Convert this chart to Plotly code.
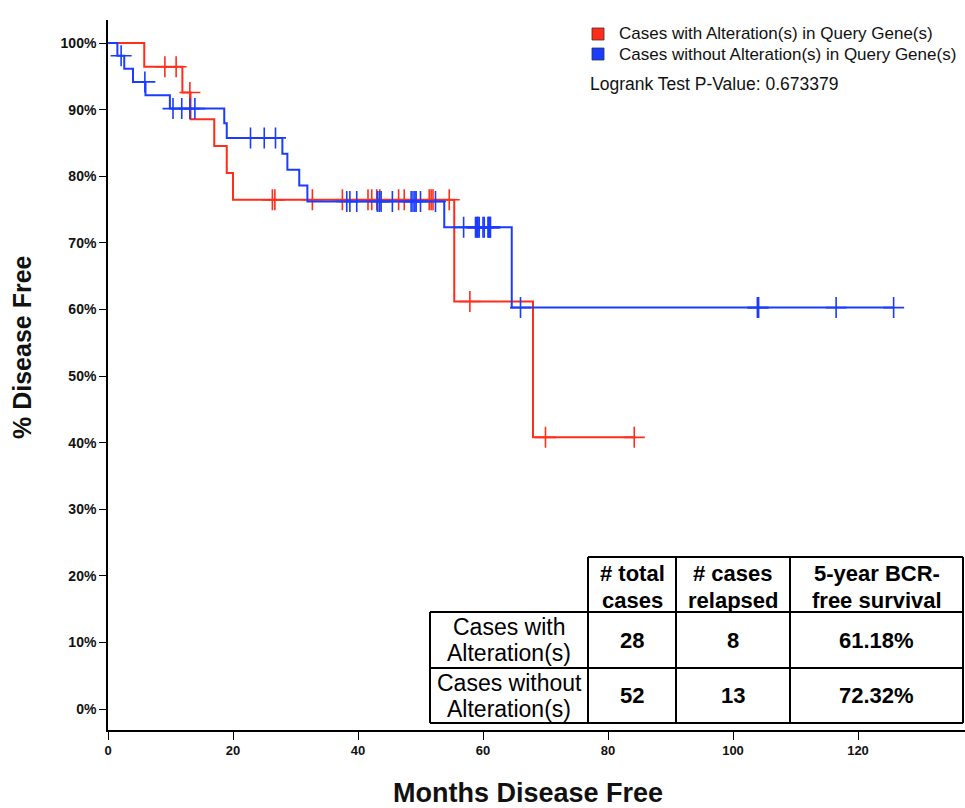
import numpy as np
import plotly.graph_objects as go

# ---------------- data ----------------
red_name = "Cases with Alteration(s) in Query Gene(s)"
blue_name = "Cases without Alteration(s) in Query Gene(s)"

red_step_months = [0, 5.8, 11.9, 13.2, 17.0, 19.0, 20.0, 55.4, 68.0]
red_step_pct = [100, 96.43, 92.57, 88.54, 84.52, 80.49, 76.47, 61.18, 40.79]
red_end_month = 84.2
red_censor_months = [9.1, 10.9, 13.1, 26.3, 26.7, 32.7, 37.5, 41.6, 42.2, 43.0,
                     43.5, 46.5, 47.4, 51.4, 51.7, 52.0, 54.6, 57.9, 70.0, 84.2]

blue_step_months = [0, 1.5, 2.6, 4.0, 6.0, 9.9, 18.6, 19.0, 27.9, 28.7, 30.6,
                    31.9, 53.8, 64.6]
blue_step_pct = [100, 98.08, 96.12, 94.16, 92.16, 90.15, 87.95, 85.75, 83.37,
                 80.98, 78.60, 76.20, 72.32, 60.27]
blue_end_month = 125.7
blue_censor_months = [2.1, 5.9, 10.4, 11.8, 13.1, 13.9, 22.8, 25.0, 26.8,
                      38.2, 38.7, 39.8, 43.1, 43.4, 43.7, 45.5, 48.5, 48.8, 49.1,
                      49.3, 50.0, 52.4,
                      56.9, 58.8, 59.0, 59.1, 59.2, 59.4, 60.0, 60.2, 60.8, 60.9,
                      61.0, 61.1, 61.2,
                      66.0, 103.9, 104.1, 116.5, 125.7]

x_tick_vals = [0, 20, 40, 60, 80, 100, 120]
y_tick_vals = [0, 10, 20, 30, 40, 50, 60, 70, 80, 90, 100]
y_tick_text = ["0%", "10%", "20%", "30%", "40%", "50%", "60%", "70%", "80%", "90%", "100%"]

pvalue_text = "Logrank Test P-Value: 0.673379"

table_header = [["# total", "cases"], ["# cases", "relapsed"], ["5-year BCR-", "free survival"]]
table_row_labels = [["Cases with", "Alteration(s)"], ["Cases without", "Alteration(s)"]]
table_total = ["28", "52"]
table_relapsed = ["8", "13"]
table_survival = ["61.18%", "72.32%"]

RED = "#ff2d1a"
BLUE = "#1a3cff"

# ---------------- layout geometry (pixels, window coordinates) ----------------
W, H = 965, 808
L, R, T, B = 108, 965, 20, 730   # plot area


def px(xp):
    return (xp - L) / (R - L)


def py(yp):
    return (B - yp) / (B - T)


fig = go.Figure()


def add_curve(months, pct, end_month, censors, color, name):
    xs = list(months) + [end_month]
    ys = list(pct) + [pct[-1]]
    fig.add_trace(go.Scatter(x=xs, y=ys, mode="lines", line=dict(color=color, width=2, shape="hv"),
                             name=name, showlegend=False, hoverinfo="skip"))
    m = np.array(months)
    idx = np.searchsorted(m, np.array(censors), side="right") - 1
    cy = [pct[i] for i in idx]
    fig.add_trace(go.Scatter(x=censors, y=cy, mode="markers",
                             marker=dict(symbol="cross-thin", size=15,
                                         line=dict(color=color, width=1.6)),
                             showlegend=False, hoverinfo="skip"))


add_curve(red_step_months, red_step_pct, red_end_month, red_censor_months, RED, red_name)
add_curve(blue_step_months, blue_step_pct, blue_end_month, blue_censor_months, BLUE, blue_name)

shapes = []
annotations = []
FONT = "Liberation Sans, Arial"

# legend
for i, (col, name) in enumerate([(RED, red_name), (BLUE, blue_name)]):
    yc = 34 + 20 * i
    shapes.append(dict(type="rect", xref="paper", yref="paper",
                       x0=px(592), x1=px(604), y0=py(yc + 6), y1=py(yc - 6),
                       fillcolor=col, line=dict(color="#333", width=0.8)))
    annotations.append(dict(x=px(617), y=py(yc), xref="paper", yref="paper", text=name,
                            showarrow=False, xanchor="left", yanchor="middle",
                            font=dict(family=FONT, size=17, color="#111")))
annotations.append(dict(x=px(588), y=py(84), xref="paper", yref="paper", text=pvalue_text,
                        showarrow=False, xanchor="left", yanchor="middle",
                        font=dict(family=FONT, size=17.5, color="#111")))

# axis titles
annotations.append(dict(x=px(22), y=py(347), xref="paper", yref="paper", text="<b>% Disease Free</b>",
                        showarrow=False, textangle=-90, xanchor="center", yanchor="middle",
                        font=dict(family=FONT, size=25, color="#111")))
annotations.append(dict(x=px(528), y=py(793), xref="paper", yref="paper", text="<b>Months Disease Free</b>",
                        showarrow=False, xanchor="center", yanchor="middle",
                        font=dict(family=FONT, size=27, color="#111")))

# table
cx = [430, 588, 676, 790, 963]
ry = [557, 612, 668, 723]
lw = dict(color="black", width=2)


def hline(x0, x1, y):
    shapes.append(dict(type="line", xref="paper", yref="paper", x0=px(x0), x1=px(x1),
                       y0=py(y), y1=py(y), line=lw))


def vline(x, y0, y1):
    shapes.append(dict(type="line", xref="paper", yref="paper", x0=px(x), x1=px(x),
                       y0=py(y0), y1=py(y1), line=lw))


hline(cx[1], cx[4], ry[0])
for yv in ry[1:]:
    hline(cx[0], cx[4], yv)
vline(cx[0], ry[1], ry[3])
for xv in cx[1:]:
    vline(xv, ry[0], ry[3])


def cell_text(xc, yc, text, bold, size=22):
    t = f"<b>{text}</b>" if bold else text
    annotations.append(dict(x=px(xc), y=py(yc), xref="paper", yref="paper", text=t,
                            showarrow=False, xanchor="center", yanchor="middle",
                            font=dict(family=FONT, size=size, color="black")))


for j, (l1, l2) in enumerate(table_header):
    xc = (cx[j + 1] + cx[j + 2]) / 2
    cell_text(xc, 573, l1, True)
    cell_text(xc, 600, l2, True)

for i in range(2):
    ytop, ybot = ry[i + 1], ry[i + 2]
    ymid = (ytop + ybot) / 2
    cell_text((cx[0] + cx[1]) / 2, ymid - 13, table_row_labels[i][0], False, 23)
    cell_text((cx[0] + cx[1]) / 2, ymid + 13, table_row_labels[i][1], False, 23)
    cell_text((cx[1] + cx[2]) / 2, ymid, table_total[i], True)
    cell_text((cx[2] + cx[3]) / 2, ymid, table_relapsed[i], True)
    cell_text((cx[3] + cx[4]) / 2, ymid, table_survival[i], True)

x_min = 0
x_max = x_min + (R - L) / 6.25
y_px_per_pct = (709 - 43) / 100.0
y_min = -(B - 709) / y_px_per_pct
y_max = (709 - T) / y_px_per_pct

fig.update_layout(
    width=W, height=H,
    margin=dict(l=L, r=W - R, t=T, b=H - B, pad=0),
    paper_bgcolor="white", plot_bgcolor="white",
    shapes=shapes, annotations=annotations,
    showlegend=False,
    xaxis=dict(range=[x_min, x_max], tickvals=x_tick_vals, showgrid=False, zeroline=False,
               showline=True, linecolor="black", linewidth=1.6, ticks="outside", ticklen=8,
               tickwidth=1.4, tickcolor="black",
               tickfont=dict(family=FONT, size=13, color="#111", weight="bold")),
    yaxis=dict(range=[y_min, y_max], tickvals=y_tick_vals, ticktext=y_tick_text, showgrid=False,
               zeroline=False, showline=True, linecolor="black", linewidth=1.6, ticks="outside",
               ticklen=7, tickwidth=1.4, tickcolor="black",
               tickfont=dict(family=FONT, size=14, color="#111", weight="bold")),
)

fig.write_html(
    "out.html",
    config={"displayModeBar": False},
    post_script="document.body.style.margin='0';document.body.style.padding='0';"
                "document.body.style.overflow='hidden';"
                "document.documentElement.style.overflow='hidden';",
)
